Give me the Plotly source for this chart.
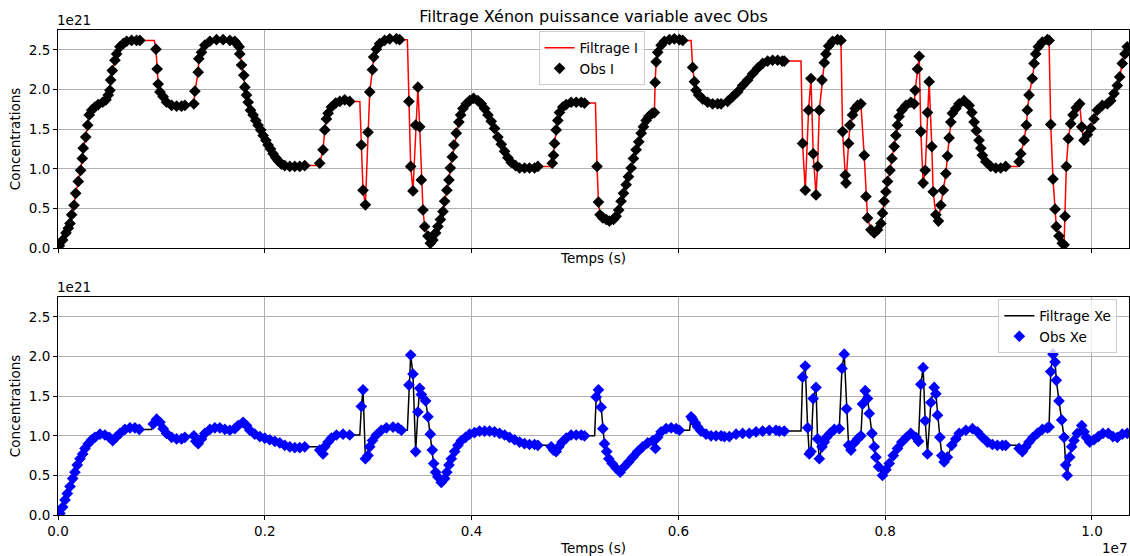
import plotly.graph_objects as go

# temps en unites de 1e4 s, concentrations en unites de 1e21
t_I = [0, 1.3, 4.5, 7.7, 10.0, 11.6, 13.2, 15.5, 17.1, 19.6, 21.9, 23.5, 24.4, 26.8, 28.7, 30.2, 32.6, 35.7,
       38.9, 43.2, 46.4, 48.6, 50.2, 50.9, 52.5, 55.1, 56.7, 59.9, 63.1, 66.4, 71.2, 76.0, 79.2,
       94.7, 95.9, 96.9, 98.6, 101.7, 105.0, 109.9, 114.7, 119.5, 122.7,
       131.4, 132.4, 135.6, 136.2, 138.8, 142.0, 146.9, 153.3, 159.7, 166.2, 171.0, 172.7, 175.2, 175.8, 177.5,
       179.7, 180.7, 182.3, 183.9, 186.2, 188.7, 191.3, 193.5, 196.1, 198.4, 201.0, 203.2, 205.5, 208.0, 210.6,
       212.9, 216.1, 219.3, 224.2, 229.0, 233.8, 238.6,
       253.1, 256.3, 258.0, 259.6, 261.2, 264.4, 268.6, 272.5, 277.3, 282.1,
       293.4, 295.0, 297.3, 299.8, 301.5, 304.1, 305.3, 307.9, 311.1, 315.9, 320.8, 327.3, 330.4,
       339.4, 341.1, 343.3, 345.9, 348.1, 349.8, 351.4, 353.0, 354.6, 357.8, 360.1, 362.6, 365.2, 367.4, 369.8,
       372.3, 373.9, 376.1, 378.1, 379.4, 381.4, 382.9, 385.2, 387.7, 389.4, 391.6, 394.9, 398.1, 401.9, 406.1,
       409.4, 412.6, 415.8, 419.0, 422.2, 425.4, 428.7, 431.9, 435.1, 438.4, 442.5, 446.4, 451.2, 456.0, 460.9,
       464.1,
       478.0, 479.2, 480.2, 481.8, 483.4, 485.0, 488.2, 491.5, 496.3, 501.2, 506.0, 509.2,
       521.3, 522.7, 524.2, 526.9, 530.2, 533.3, 537.2, 539.8, 542.3, 544.6, 546.9, 549.5, 551.7, 554.3, 556.5,
       559.1, 561.7, 564.0, 566.2, 568.8, 571.3, 574.6, 576.8, 577.5, 578.5, 580.0, 583.3, 586.5, 591.3, 596.1,
       601.0, 604.2,
       613.8, 615.5, 617.1, 619.6, 623.5, 628.3, 633.1, 638.0, 641.3, 647.6, 652.5, 657.3, 662.1, 667.0, 671.8,
       676.6, 681.5, 686.3, 691.1, 696.0, 700.5, 702.4,
       720.1, 722.7, 725.9, 728.2, 730.4, 733.1, 734.6, 736.3, 738.9, 741.1, 742.7, 745.3, 749.1, 753.9, 757.2,
       758.8, 761.4, 762.1, 764.6, 765.9, 768.4, 771.0, 773.3, 776.5, 779.7, 781.4, 782.9, 786.2, 789.4, 792.6,
       795.9, 797.4, 799.0, 800.7, 802.3, 804.6, 806.5, 808.7, 810.3, 811.9, 813.5, 816.1, 820.0, 824.8, 828.0,
       829.0, 831.2, 832.9, 834.5, 836.7, 838.7, 840.9, 842.5, 845.1, 846.4, 849.0, 851.5, 853.8, 856.1, 858.7,
       860.2, 861.8, 863.5, 865.0, 868.3, 871.5, 876.3, 881.2, 883.8, 886.0, 888.2, 890.8, 892.5, 894.0, 897.3,
       902.1, 907.0, 911.8, 916.6,
       929.5, 931.1, 934.3, 936.5, 937.5, 939.1, 942.3, 944.0, 945.6, 948.1, 952.0, 956.8, 958.5, 960.1, 962.3,
       964.3, 965.5, 968.1, 971.3, 973.0, 973.9, 975.2, 977.1, 979.4, 981.7, 984.8, 988.1, 990.1, 992.3, 995.5,
       998.7, 1001.9, 1005.1, 1010.0, 1014.8, 1018.1, 1021.3, 1024.5, 1026.8, 1029.3, 1031.9, 1034.1]

obs_I = [0.00, 0.03, 0.10, 0.19, 0.25, 0.31, 0.42, 0.54, 0.69, 0.84, 0.98, 1.13, 1.26, 1.40, 1.55, 1.68, 1.74, 1.78,
         1.81, 1.84, 1.87, 1.93, 1.99, 2.12, 2.24, 2.37, 2.45, 2.54, 2.58, 2.61, 2.62, 2.62, 2.62,
         2.51, 2.26, 2.07, 1.97, 1.91, 1.84, 1.80, 1.79, 1.79, 1.80,
         1.82, 1.98, 2.22, 2.39, 2.47, 2.56, 2.61, 2.63, 2.63, 2.62, 2.61, 2.58, 2.54, 2.45, 2.31,
         2.18, 2.03, 1.93, 1.84, 1.74, 1.68, 1.61, 1.55, 1.49, 1.42, 1.36, 1.30, 1.25, 1.19, 1.14,
         1.10, 1.06, 1.04, 1.03, 1.03, 1.03, 1.04,
         1.07, 1.24, 1.49, 1.63, 1.70, 1.78, 1.83, 1.85, 1.87, 1.85,
         1.30, 0.73, 0.545, 1.46, 1.97, 2.25, 2.41, 2.51, 2.58, 2.62, 2.64, 2.64, 2.63,
         1.85, 1.03, 0.72, 1.55, 2.03, 1.53, 0.86, 0.48, 0.27, 0.15, 0.06, 0.10, 0.19, 0.27, 0.36,
         0.46, 0.59, 0.73, 0.86, 1.01, 1.15, 1.30, 1.45, 1.59, 1.68, 1.76, 1.82, 1.86, 1.89, 1.86,
         1.82, 1.76, 1.68, 1.60, 1.51, 1.40, 1.31, 1.22, 1.14, 1.08, 1.04, 1.01, 1.01, 1.01, 1.01,
         1.03,
         1.07, 1.17, 1.32, 1.49, 1.61, 1.71, 1.78, 1.81, 1.84, 1.84, 1.84, 1.83,
         1.03, 0.58, 0.42, 0.38, 0.36, 0.34, 0.36, 0.40, 0.48, 0.59, 0.69, 0.80, 0.90, 1.01, 1.13,
         1.24, 1.34, 1.45, 1.53, 1.61, 1.66, 1.70, 1.71, 2.09, 2.35, 2.47, 2.56, 2.61, 2.63, 2.64,
         2.63, 2.62,
         2.28, 2.10, 1.99, 1.93, 1.88, 1.84, 1.82, 1.82, 1.82, 1.85, 1.91, 1.97, 2.05, 2.12, 2.20,
         2.27, 2.33, 2.36, 2.37, 2.37, 2.36, 2.36,
         1.32, 0.73, 1.74, 2.14, 1.19, 0.67, 1.03, 1.74, 2.12, 2.34, 2.45, 2.55, 2.61, 2.63, 2.62,
         1.47, 0.92, 0.82, 1.32, 1.55, 1.68, 1.76, 1.80, 1.82, 1.17, 0.65, 0.38, 0.23, 0.19, 0.23,
         0.31, 0.44, 0.59, 0.71, 0.84, 0.98, 1.13, 1.28, 1.42, 1.55, 1.66, 1.74, 1.80, 1.84, 1.82,
         1.99, 2.26, 2.42, 1.47, 0.82, 0.98, 1.71, 2.10, 1.28, 0.71, 0.42, 0.34, 0.54, 0.73, 0.94,
         1.16, 1.39, 1.59, 1.70, 1.76, 1.82, 1.86, 1.80, 1.71, 1.59, 1.48, 1.36, 1.26, 1.17, 1.09,
         1.03, 1.01, 1.01, 1.03,
         1.09, 1.19, 1.36, 1.55, 1.74, 1.93, 2.14, 2.33, 2.45, 2.54, 2.60, 2.63, 2.62, 1.56, 0.87,
         0.49, 0.27, 0.15, 0.06, 0.04, 0.40, 1.03, 1.38, 1.57, 1.68, 1.77, 1.82, 1.53, 1.36, 1.43,
         1.51, 1.63, 1.74, 1.80, 1.82, 1.86, 1.95, 2.05, 2.16, 2.33, 2.45, 2.54]

t_Xe = [0, 1.9, 4.5, 6.8, 9.0, 11.6, 14.2, 16.4, 18.6, 21.3, 23.9, 26.1, 29.3, 32.6, 35.7, 40.6, 45.4, 49.6,
        52.9, 56.0, 59.9, 64.7, 69.6, 74.4, 78.6,
        92.1, 95.4, 98.6, 101.7, 105.0, 109.9, 114.7, 119.5, 122.7,
        131.4, 133.3, 135.6, 138.8, 142.0, 146.9, 151.7, 156.5, 161.4, 166.2, 171.0, 174.2, 179.0, 182.3, 185.5,
        190.3, 195.2, 200.0, 204.8, 209.7, 214.5, 219.3, 224.2, 229.0, 233.8, 238.6,
        253.1, 256.3, 258.0, 261.2, 264.4, 269.3, 275.7, 282.1,
        293.4, 295.0, 297.3, 299.8, 301.5, 304.1, 307.9, 312.7, 317.6, 324.0, 328.8, 332.1,
        339.4, 341.1, 343.3, 345.9, 348.1, 349.8, 351.4, 355.6, 357.8, 360.1, 362.0, 363.3, 365.2, 367.4, 370.7,
        373.9, 376.1, 378.1, 380.4, 383.6, 386.8, 390.1, 394.2, 398.1, 402.9, 407.7, 412.6, 417.4, 422.2, 427.1,
        431.9, 436.7, 441.6, 446.4, 451.2, 456.0, 460.9, 464.1,
        477.0, 479.2, 481.8, 484.4, 487.6, 491.5, 496.3, 501.2, 506.0, 509.2,
        520.5, 522.7, 525.3, 526.9, 528.5, 530.7, 532.7, 535.9, 539.8, 543.7, 547.8, 552.0, 555.9, 560.7, 565.5,
        570.3, 575.2, 577.8, 580.0, 583.3, 588.1, 593.0, 597.8, 601.0,
        612.3, 613.8, 616.4, 618.7, 621.9, 626.8, 631.6, 636.4, 641.3, 644.5, 649.3, 655.8, 662.1, 668.6, 675.1,
        681.5, 687.9, 694.4, 697.6, 702.4,
        720.1, 722.7, 725.0, 726.6, 728.2, 730.4, 733.1, 734.6, 736.3, 738.9, 741.1, 743.3, 746.6, 750.8, 755.6,
        758.2, 760.4, 762.6, 764.6, 766.9, 770.1, 773.3, 776.5, 778.1, 780.7, 782.9, 784.6, 787.2, 789.4, 791.0,
        793.6, 797.4, 800.7, 803.9, 807.8, 811.9, 816.1, 820.6, 824.8, 829.7, 832.2, 834.5, 836.7, 838.7, 840.9,
        844.2, 847.4, 849.0, 850.6, 852.9, 854.8, 857.0, 860.2, 864.4, 868.3, 871.5, 878.0, 884.4, 889.2, 894.0,
        898.9, 903.7, 908.5, 913.4, 916.6,
        929.5, 932.7, 936.0, 939.1, 943.0, 947.2, 952.0, 956.8, 958.5, 960.1, 962.3, 964.3, 965.5, 968.1, 970.7,
        973.0, 974.6, 976.1, 978.5, 980.4, 982.6, 985.8, 990.1, 992.3, 994.5, 997.8, 1001.9, 1006.1, 1010.6,
        1015.8, 1020.3, 1024.5, 1029.3, 1034.1]

obs_Xe = [0.00, 0.02, 0.10, 0.19, 0.27, 0.36, 0.46, 0.54, 0.63, 0.71, 0.77, 0.84, 0.90, 0.95, 0.98, 1.02, 1.01, 0.98,
          0.94, 0.98, 1.03, 1.08, 1.10, 1.10, 1.08,
          1.15, 1.21, 1.17, 1.09, 1.03, 0.98, 0.96, 0.96, 0.98,
          1.00, 0.93, 0.90, 0.96, 1.03, 1.08, 1.10, 1.10, 1.08, 1.07, 1.09, 1.13, 1.17, 1.13, 1.07,
          1.02, 0.99, 0.97, 0.95, 0.93, 0.91, 0.88, 0.86, 0.85, 0.85, 0.86,
          0.82, 0.77, 0.86, 0.92, 0.97, 1.01, 1.02, 1.01,
          1.37, 1.58, 0.71, 0.75, 0.86, 0.94, 1.01, 1.07, 1.10, 1.11, 1.10, 1.07,
          1.64, 2.02, 1.78, 0.80, 1.30, 1.60, 1.52, 1.44, 1.24, 1.02, 0.82, 0.65, 0.54, 0.48, 0.41,
          0.46, 0.54, 0.63, 0.71, 0.80, 0.88, 0.94, 0.98, 1.02, 1.04, 1.06, 1.06, 1.06, 1.05, 1.03,
          1.01, 0.98, 0.95, 0.92, 0.90, 0.89, 0.89, 0.88,
          0.86, 0.82, 0.80, 0.86, 0.92, 0.97, 1.01, 1.01, 1.01, 1.00,
          1.49, 1.58, 1.36, 1.09, 0.90, 0.80, 0.71, 0.65, 0.59, 0.54, 0.61, 0.67, 0.73, 0.80, 0.86,
          0.91, 0.94, 0.84, 0.98, 1.05, 1.09, 1.10, 1.09, 1.07,
          1.24, 1.21, 1.16, 1.11, 1.06, 1.02, 1.00, 1.00, 1.00, 0.99, 0.99, 1.02, 1.03, 1.03, 1.05,
          1.06, 1.07, 1.07, 1.06, 1.06,
          1.74, 1.88, 1.10, 0.77, 0.80, 1.47, 1.61, 0.96, 0.71, 0.86, 0.92, 0.98, 1.03, 1.08, 1.09,
          1.85, 2.03, 1.34, 0.88, 0.82, 0.91, 0.96, 1.00, 1.40, 1.57, 1.47, 1.28, 1.03, 0.86, 0.73,
          0.61, 0.50, 0.57, 0.65, 0.75, 0.84, 0.92, 0.98, 1.03, 0.98, 0.93, 1.65, 1.86, 1.19, 0.77,
          1.42, 1.61, 1.53, 1.26, 0.98, 0.75, 0.67, 0.73, 0.88, 0.96, 1.03, 1.07, 1.09, 1.05, 0.98,
          0.92, 0.89, 0.88, 0.88, 0.88,
          0.84, 0.80, 0.86, 0.92, 0.98, 1.03, 1.08, 1.10, 1.11, 1.81, 2.03, 1.93, 1.70, 1.44, 1.20,
          0.98, 0.63, 0.50, 0.73, 0.86, 0.94, 1.03, 1.13, 1.05, 0.98, 0.92, 0.95, 0.99, 1.03,
          1.03, 0.99, 0.98, 1.02, 1.03]


def filtrage(t, y, gap=7.0, lag=1.5):
    # le filtre garde sa derniere valeur quand il n'y a pas d'observation
    xs, ys = [t[0]], [y[0]]
    for i in range(1, len(t)):
        if t[i] - t[i - 1] > gap:
            xs.append(t[i] - lag)
            ys.append(y[i - 1])
        xs.append(t[i])
        ys.append(y[i])
    return [v / 1000 for v in xs], ys


font = dict(family="DejaVu Sans", size=13.5, color="black")
legfont = dict(family="DejaVu Sans", size=13.5, color="black")
grid = "#b0b0b0"
msize = 9

fig = go.Figure()

fx, fy = filtrage(t_I, obs_I)
fig.add_trace(go.Scatter(x=fx, y=fy, mode="lines", name="Filtrage I",
                         line=dict(color="red", width=1.5), xaxis="x", yaxis="y"))
fig.add_trace(go.Scatter(x=[v / 1000 for v in t_I], y=obs_I, mode="markers", name="Obs I",
                         marker=dict(symbol="diamond", size=msize, color="black"), xaxis="x", yaxis="y"))

fx, fy = filtrage(t_Xe, obs_Xe)
fig.add_trace(go.Scatter(x=fx, y=fy, mode="lines", name="Filtrage Xe", legend="legend2",
                         line=dict(color="black", width=1.5), xaxis="x2", yaxis="y2"))
fig.add_trace(go.Scatter(x=[v / 1000 for v in t_Xe], y=obs_Xe, mode="markers", name="Obs Xe", legend="legend2",
                         marker=dict(symbol="diamond", size=msize, color="blue"), xaxis="x2", yaxis="y2"))

axis_common = dict(showgrid=True, gridcolor=grid, gridwidth=0.8, showline=True, linecolor="black",
                   linewidth=1, mirror=True, ticks="outside", ticklen=4, tickwidth=0.8, tickcolor="black",
                   zeroline=False, tickfont=font, automargin=False)
xr = [0, 1.0358]
yr = [0, 2.752]

fig.update_layout(
    width=1130, height=556,
    margin=dict(l=58, r=1, t=30, b=41),
    paper_bgcolor="white", plot_bgcolor="white",
    font=font,
    title=dict(text="Filtrage Xénon puissance variable avec Obs", x=0.5, xref="paper",
               y=1 - 16 / 556, yanchor="middle", font=dict(family="DejaVu Sans", size=16, color="black")),
    xaxis=dict(domain=[0, 1], anchor="y", range=xr, dtick=0.2, showticklabels=False,
               title=dict(text="Temps (s)", standoff=1, font=font), **axis_common),
    yaxis=dict(domain=[0.5505, 1], anchor="x", range=yr, dtick=0.5, tickformat=".1f",
               title=dict(text="Concentrations", standoff=5, font=font), **axis_common),
    xaxis2=dict(domain=[0, 1], anchor="y2", range=xr, dtick=0.2, tickformat=".1f",
                title=dict(text="Temps (s)", standoff=6, font=font), **axis_common),
    yaxis2=dict(domain=[0, 0.4495], anchor="x2", range=yr, dtick=0.5, tickformat=".1f",
                title=dict(text="Concentrations", standoff=5, font=font), **axis_common),
    legend=dict(x=0.4487, y=0.997, xanchor="left", yanchor="top", bgcolor="rgba(255,255,255,0.8)",
                bordercolor="#cccccc", borderwidth=1, font=legfont),
    legend2=dict(x=0.878, y=0.4445, xanchor="left", yanchor="top", bgcolor="rgba(255,255,255,0.8)",
                 bordercolor="#cccccc", borderwidth=1, font=legfont),
    annotations=[
        dict(text="1e21", xref="paper", yref="paper", x=0, y=1, xanchor="left", yanchor="bottom",
             xshift=-3, showarrow=False, font=font),
        dict(text="1e21", xref="paper", yref="paper", x=0, y=0.4495, xanchor="left", yanchor="bottom",
             xshift=-3, showarrow=False, font=font),
        dict(text="1e7", xref="paper", yref="paper", x=1, y=-0.068, xanchor="right", yanchor="middle",
             showarrow=False, font=font),
    ],
)

# la page html ajoute une marge de 8 px autour de la figure : on la retire
fig.write_html("out.html", config={"displayModeBar": False},
               post_script="document.body.style.margin='0';")
